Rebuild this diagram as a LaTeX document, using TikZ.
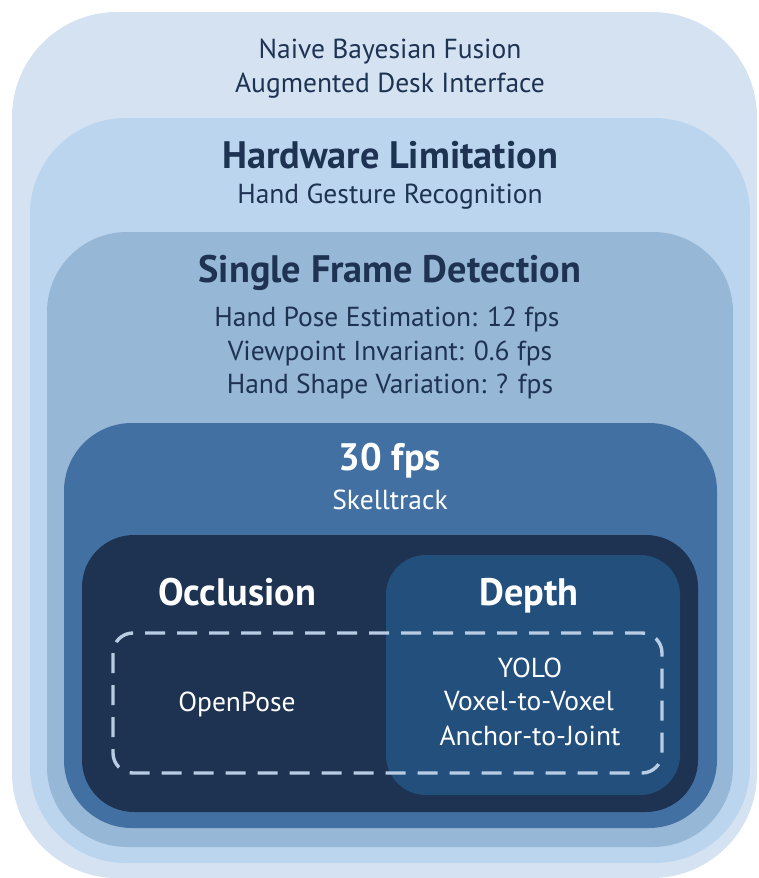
\documentclass[tikz,border=0pt]{standalone}
\usepackage{fontspec}
\setmainfont{PT Sans}
\definecolor{lvA}{HTML}{D4E2F2}
\definecolor{lvB}{HTML}{BBD5EE}
\definecolor{lvC}{HTML}{97B7D6}
\definecolor{lvD}{HTML}{4270A3}
\definecolor{lvE}{HTML}{1E3352}
\definecolor{depthfill}{HTML}{234F7D}
\definecolor{dashcol}{HTML}{B8CCE4}
\definecolor{ink}{HTML}{1E3352}
\begin{document}
\begin{tikzpicture}[x=1pt,y=-1pt,
  body/.style={font=\fontsize{27.5}{27.5}\selectfont, inner sep=0pt, anchor=base},
  head/.style={font=\fontsize{38.3}{38.3}\selectfont\bfseries, inner sep=0pt, anchor=base},
  darktext/.style={text=ink},
  lighttext/.style={text=white}]
\useasboundingbox (0,0) rectangle (758,878);
% nested layers
\fill[lvA, rounded corners=105pt] (12,12) rectangle (757,878);
\fill[lvB, rounded corners=96pt] (30,118) rectangle (750,863);
\fill[lvC, rounded corners=80pt] (47,232) rectangle (733,847);
\fill[lvD, rounded corners=68pt] (64,423) rectangle (717,828);
\fill[lvE, rounded corners=52pt] (82,535) rectangle (698,812);
\fill[depthfill, rounded corners=40pt] (386,555) rectangle (680,795);
\draw[dashcol, line width=3.4pt, dash pattern=on 20pt off 12pt, rounded corners=20pt]
  (113,633) rectangle (662,773);
% texts (positions are baselines)
\node[body,darktext] (t1) at (390,58) {Naive Bayesian Fusion};
\node[body,darktext] (t2) at (390,92) {Augmented Desk Interface};
\node[head,darktext] (h2) at (390,168) {Hardware Limitation};
\node[body,darktext] (t3) at (390,203) {Hand Gesture Recognition};
\node[head,darktext] (h3) at (390,282) {Single Frame Detection};
\node[body,darktext] (t4) at (387,326) {Hand Pose Estimation: 12 fps};
\node[body,darktext] (t5) at (390,360) {Viewpoint Invariant: 0.6 fps};
\node[body,darktext] (t6) at (390,393) {Hand Shape Variation: ? fps};
\node[head,lighttext] (h4) at (390,470) {30 fps};
\node[body,lighttext] (t7) at (390,509) {Skelltrack};
\node[head,lighttext] (h5) at (237,605) {Occlusion};
\node[head,lighttext] (h6) at (529,605) {Depth};
\node[body,lighttext] (t8) at (237,711) {OpenPose};
\node[body,lighttext] (t9) at (530,677) {YOLO};
\node[body,lighttext] (t10) at (529,710) {Voxel-to-Voxel};
\node[body,lighttext] (t11) at (530,745) {Anchor-to-Joint};
\end{tikzpicture}
\end{document}
